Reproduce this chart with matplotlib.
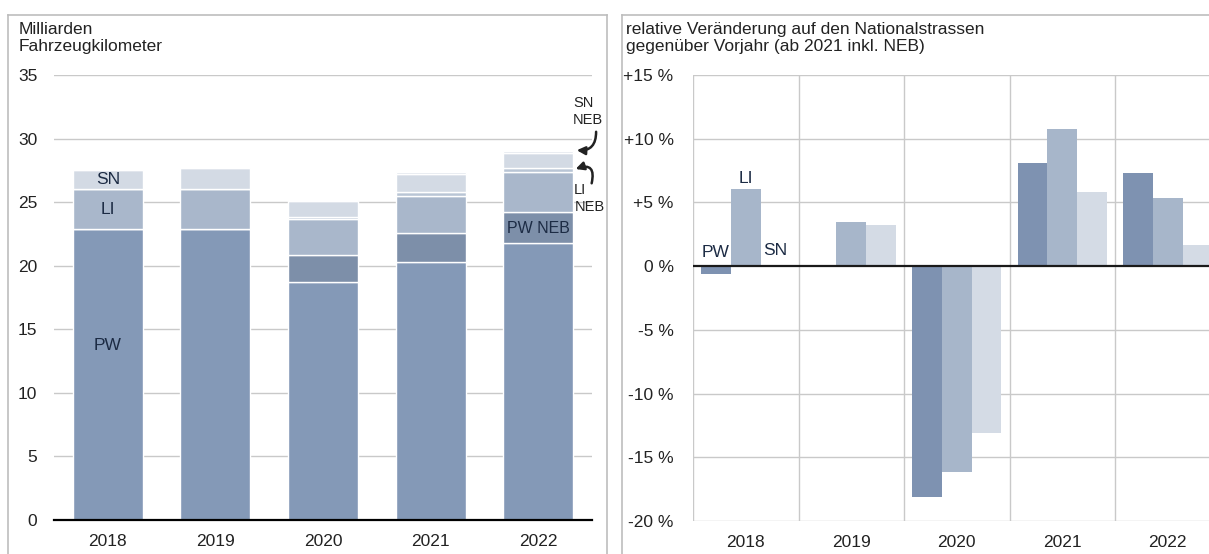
import matplotlib
matplotlib.use("Agg")
from matplotlib import pyplot as plt
from matplotlib.lines import Line2D
from matplotlib.patches import FancyArrowPatch
import numpy as np

plt.rcParams['font.family'] = ['Liberation Sans', 'DejaVu Sans']

years = ['2018', '2019', '2020', '2021', '2022']

# left: Fahrzeugkilometer (Mrd.), stacked
pw = [22.9, 22.9, 18.7, 20.3, 21.8]
pw_neb = [0.0, 0.0, 2.15, 2.3, 2.4]
li = [3.1, 3.15, 2.8, 2.9, 3.2]
li_neb = [0.0, 0.0, 0.15, 0.3, 0.3]
sn = [1.55, 1.65, 1.3, 1.45, 1.2]
sn_neb = [0.0, 0.0, 0.1, 0.1, 0.15]

# right: Veraenderung gegenueber Vorjahr in %
pw_chg = [-0.65, -0.1, -18.1, 8.1, 7.3]
li_chg = [6.05, 3.45, -16.15, 10.8, 5.35]
sn_chg = [0.05, 3.2, -13.1, 5.8, 1.65]

W, H = 1209, 554
fig = plt.figure(figsize=(W / 100, H / 100), dpi=100)
fs = 12.5
txtc = '#1c2b44'
gridc = '#c9c9c9'

def fx(px):
    return px / W

def fy(py):
    return 1 - py / H

# panel frames
framec = '#bdbdbd'
for seg in [((8, 8), (15, H)), ((8, 607), (15, 15)), ((607, 607), (15, H)),
            ((622, 622), (15, H)), ((622, W), (15, 15))]:
    fig.add_artist(Line2D([fx(seg[0][0]), fx(seg[0][1])],
                          [fy(seg[1][0]), fy(seg[1][1])], color=framec, lw=1.2))

# ---- left chart
ax = fig.add_axes([fx(54), fy(520), fx(592) - fx(54), fy(75) - fy(520)])
x = np.arange(len(years))
bw = 0.65
cols = ['#8499b7', '#7d8fa9', '#a9b7cb', '#b9c5d5', '#d3dae4', '#dee3ea']
bottom = np.zeros(len(years))
for vals, c in zip([pw, pw_neb, li, li_neb, sn, sn_neb], cols):
    vals = np.array(vals)
    ax.bar(x, vals, bw, bottom=bottom, color=c, edgecolor='white', linewidth=1, zorder=3)
    bottom = bottom + vals

ax.set_xlim(-0.5, 4.5)
ax.set_ylim(0, 35)
ax.set_yticks(np.arange(0, 36, 5))
ax.set_xticks(x)
ax.set_xticklabels(years)
for yv in range(5, 36, 5):
    ax.axhline(yv, color=gridc, lw=1, zorder=1)
for s in ['top', 'right', 'left']:
    ax.spines[s].set_visible(False)
ax.spines['bottom'].set_linewidth(1.6)
ax.spines['bottom'].set_zorder(5)
ax.tick_params(axis='both', length=0, labelsize=fs, colors='#222222')
ax.tick_params(axis='y', pad=12)
ax.tick_params(axis='x', pad=10)

ax.text(0, 26.75, 'SN', ha='center', va='center', fontsize=fs, color=txtc, zorder=6)
ax.text(0, 24.4, 'LI', ha='center', va='center', fontsize=fs, color=txtc, zorder=6)
ax.text(0, 13.7, 'PW', ha='center', va='center', fontsize=fs, color=txtc, zorder=6)
ax.text(4, 22.95, 'PW NEB', ha='center', va='center', fontsize=fs - 1, color=txtc, zorder=6)

fig.text(fx(19), fy(22), 'Milliarden\nFahrzeugkilometer', ha='left', va='top',
         fontsize=fs, color='#222222', linespacing=1.2)

# NEB annotations
fig.text(fx(584), fy(103), 'SN', ha='center', va='center', fontsize=fs - 2, color='#222222')
fig.text(fx(588), fy(120), 'NEB', ha='center', va='center', fontsize=fs - 2, color='#222222')
fig.text(fx(580), fy(190), 'LI', ha='center', va='center', fontsize=fs - 2, color='#222222')
fig.text(fx(590), fy(207), 'NEB', ha='center', va='center', fontsize=fs - 2, color='#222222')
arrow_kw = dict(arrowstyle='-|>', color='#222222', lw=1.8, mutation_scale=12)
fig.add_artist(FancyArrowPatch(
    (fx(596), fy(129)), (fx(574), fy(150)), transform=fig.transFigure,
    connectionstyle='arc3,rad=-0.6', **arrow_kw))
fig.add_artist(FancyArrowPatch(
    (fx(591), fy(186)), (fx(573), fy(170)), transform=fig.transFigure,
    connectionstyle='arc3,rad=1.0', **arrow_kw))

# ---- right chart
ax2 = fig.add_axes([fx(693), fy(521), fx(1220.5) - fx(693), fy(75) - fy(521)])
bw2 = 0.28
cols2 = ['#7e92b1', '#a7b6ca', '#d4dbe5']
for off, vals, c in zip([-0.28, 0.0, 0.28], [pw_chg, li_chg, sn_chg], cols2):
    ax2.bar(x + off, vals, bw2, color=c, zorder=3)

ax2.set_xlim(-0.5, 4.5)
ax2.set_ylim(-20, 15)
yt = np.arange(-20, 16, 5)
ax2.set_yticks(yt)
ax2.set_yticklabels([('+%d %%' % v) if v > 0 else ('%d %%' % v) for v in yt])
ax2.set_xticks(x)
ax2.set_xticklabels(years)
for yv in yt:
    if yv != 0:
        ax2.axhline(yv, color=gridc, lw=1, zorder=1)
for xv in np.arange(-0.5, 4.6, 1.0):
    ax2.axvline(xv, color=gridc, lw=1, zorder=1)
ax2.axhline(0, color='#1a1a1a', lw=1.6, zorder=5)
for s in ax2.spines.values():
    s.set_visible(False)
ax2.tick_params(axis='both', length=0, labelsize=fs, colors='#222222')
ax2.tick_params(axis='y', pad=14)
ax2.tick_params(axis='x', pad=10)

ax2.text(-0.29, 1.05, 'PW', ha='center', va='center', fontsize=fs, color=txtc, zorder=6)
ax2.text(0.0, 6.85, 'LI', ha='center', va='center', fontsize=fs, color=txtc, zorder=6)
ax2.text(0.28, 1.2, 'SN', ha='center', va='center', fontsize=fs, color=txtc, zorder=6)

fig.text(fx(626), fy(22), 'relative Veränderung auf den Nationalstrassen\n'
         'gegenüber Vorjahr (ab 2021 inkl. NEB)', ha='left', va='top',
         fontsize=fs, color='#222222', linespacing=1.2)

fig.savefig('out.png', dpi=100)
